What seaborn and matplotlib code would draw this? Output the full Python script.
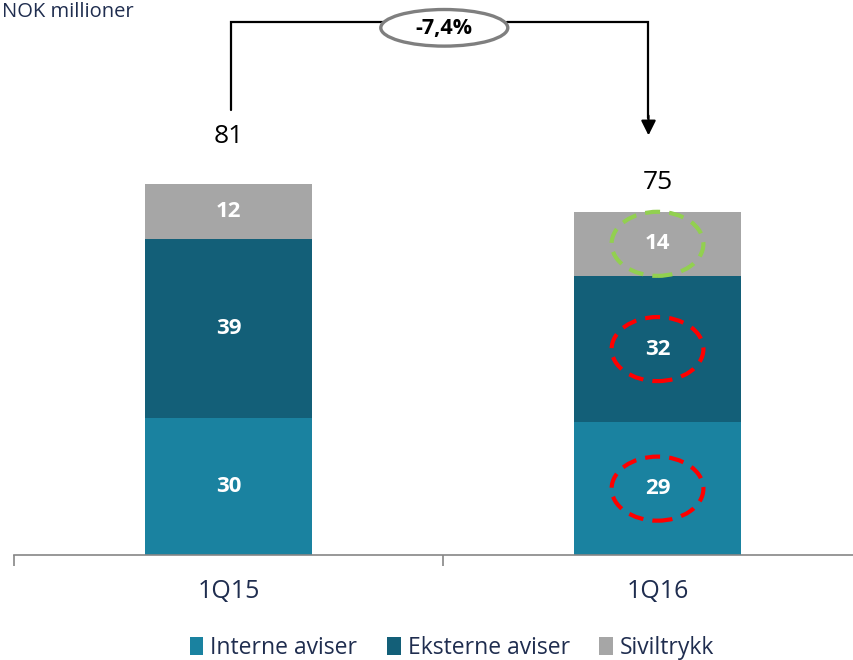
import numpy as np
import pandas as pd
import matplotlib
matplotlib.use("Agg")
import matplotlib.pyplot as plt
from matplotlib.patches import Ellipse, Patch
import seaborn as sns

kvartaler = ["1Q15", "1Q16"]
interne = [30, 29]
eksterne = [39, 32]
siviltrykk = [12, 14]
totaler = [81, 75]
endring = "-7,4%"

serier = ["Interne aviser", "Eksterne aviser", "Siviltrykk"]
farger = ["#1A82A0", "#135F78", "#A6A6A6"]
navy = "#1F2D4F"

sns.set_style("white")
plt.rcParams["font.family"] = ["Open Sans", "DejaVu Sans"]

df = pd.DataFrame({
    "kvartal": kvartaler,
    "interne": interne,
    "eksterne": eksterne,
    "siviltrykk": siviltrykk,
})
df["topp2"] = df["interne"] + df["eksterne"]
df["topp3"] = df["topp2"] + df["siviltrykk"]

fig = plt.figure(figsize=(8.54, 6.6), dpi=100)
ax = fig.add_axes([14 / 854, 105 / 660, 858 / 854, 540 / 660])

# lagvis stabling: største først
for kol, farge in zip(["topp3", "topp2", "interne"], farger[::-1]):
    sns.barplot(data=df, x="kvartal", y=kol, color=farge, width=0.39,
                saturation=1, ax=ax, edgecolor="none")

ax.set_xlim(-0.5, 1.5)
ax.set_ylim(0, 118)
ax.set_xlabel("")
ax.set_ylabel("")
ax.set_yticks([])
for s in ["top", "right", "left"]:
    ax.spines[s].set_visible(False)
ax.spines["bottom"].set_color("#868686")
ax.spines["bottom"].set_linewidth(1.2)

ax.set_xticks([-0.5, 0.5, 1.5])
ax.set_xticklabels([])
ax.tick_params(axis="x", which="major", bottom=True, direction="out",
               length=8, color="#868686", width=1.2)
for i, k in enumerate(kvartaler):
    ax.text(i, -8, k, ha="center", va="center", fontsize=18, color=navy)

# verdier i segmentene
etikett_avstand = [10.5, 6.3]
for i in range(len(kvartaler)):
    midt = [interne[i] / 2,
            interne[i] + eksterne[i] / 2,
            interne[i] + eksterne[i] + siviltrykk[i] / 2]
    for v, y in zip([interne[i], eksterne[i], siviltrykk[i]], midt):
        ax.text(i, y, str(v), ha="center", va="center", fontsize=16,
                fontweight="bold", color="white")
    ax.text(i, totaler[i] + etikett_avstand[i], str(totaler[i]),
            ha="center", va="center", fontsize=19, color="black")

# markeringer rundt 1Q16
midt2 = [interne[1] / 2, interne[1] + eksterne[1] / 2,
         interne[1] + eksterne[1] + siviltrykk[1] / 2]
for y, farge in zip(midt2, ["#FF0000", "#FF0000", "#92D050"]):
    ax.add_patch(Ellipse((1, y), 0.214, 14.0, fill=False, edgecolor=farge,
                         linewidth=3, linestyle=(0, (3.6, 2.2)),
                         clip_on=False, zorder=5))

# pil med endring
yl = 116.4
ax.plot([0.005, 0.005, 0.36], [97.2, yl, yl], color="black", lw=1.6,
        clip_on=False, solid_joinstyle="miter")
ax.plot([0.65, 0.979, 0.979], [yl, yl, 95.5], color="black", lw=1.6,
        clip_on=False, solid_joinstyle="miter")
ax.annotate("", xy=(0.979, 91.7), xytext=(0.979, 96),
            arrowprops=dict(arrowstyle="-|>", color="black", lw=1.6,
                            mutation_scale=22, shrinkA=0, shrinkB=0),
            annotation_clip=False)
ax.add_patch(Ellipse((0.503, 115.2), 0.296, 8.0, facecolor="white",
                     edgecolor="#7F7F7F", linewidth=2.4, clip_on=False,
                     zorder=6))
ax.text(0.503, 115.0, endring, ha="center", va="center", fontsize=15.5,
        fontweight="bold", color="black", zorder=7)

fig.text(2 / 854, 1 - 12 / 660, "NOK millioner", ha="left", va="center",
         fontsize=14.5, color=navy)

handles = [Patch(facecolor=f, edgecolor="none") for f in farger]
fig.legend(handles, serier, loc="center", bbox_to_anchor=(452 / 854, 12 / 660),
           ncol=3, frameon=False, fontsize=16.5, handlelength=0.6,
           handleheight=0.8, handletextpad=0.3, columnspacing=1.3,
           labelcolor=navy)

fig.savefig("out.png", dpi=100)
